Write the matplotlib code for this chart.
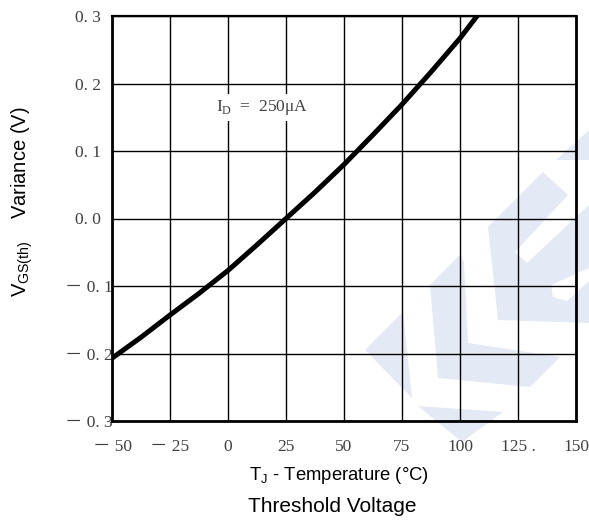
import matplotlib
matplotlib.use("Agg")
import matplotlib.pyplot as plt
from matplotlib.patches import Polygon

# threshold voltage shift vs junction temperature
temp_c = [-50, -37.5, -25, -12.5, 0, 12.5, 25, 37.5, 50, 62.5, 75, 87.5, 100, 108]
vgs_var = [-0.207, -0.176, -0.143, -0.111, -0.077, -0.039, 0.0, 0.039, 0.080,
           0.124, 0.169, 0.217, 0.267, 0.303]

x_ticks = [-50, -25, 0, 25, 50, 75, 100, 125, 150]
x_labels = ["－ 50", "－ 25", "0", "25", "50", "75", "100", "125 .", "150"]
y_ticks = [-0.3, -0.2, -0.1, 0.0, 0.1, 0.2, 0.3]
y_labels = ["－ 0. 3", "－ 0. 2", "－ 0. 1", "0. 0", "0. 1", "0. 2", "0. 3"]

W, H = 589, 528
serif = ["Liberation Serif", "Noto Sans CJK SC"]
sans = ["Liberation Sans", "DejaVu Sans"]

fig = plt.figure(figsize=(W / 100, H / 100), dpi=100)
ax = fig.add_axes([112 / W, 1 - 421 / H, 464 / W, 405 / H])
ax.set_facecolor("none")

# pale logo in the background (pixel coords, y downward)
logo_shapes = [
    [(365, 350), (403, 312), (412, 398)],
    [(430, 285), (460, 255), (464, 262), (468, 343), (560, 357), (530, 387), (438, 378)],
    [(418, 406), (503, 412), (462, 442)],
    [(488, 227), (543, 172), (568, 195), (515, 252), (527, 263), (589, 205),
     (589, 323), (498, 320)],
    [(556, 160), (589, 130), (589, 160)],
]
for pts in logo_shapes:
    fig.patches.append(Polygon([(px / W, 1 - py / H) for px, py in pts], closed=True,
                               transform=fig.transFigure, fc="#e3e9f5", ec="none",
                               zorder=-2))
notch = [(551, 285), (553, 297), (567, 301), (589, 281), (589, 268)]
fig.patches.append(Polygon([(px / W, 1 - py / H) for px, py in notch], closed=True,
                           transform=fig.transFigure, fc="white", ec="none", zorder=-1))

ax.plot(temp_c, vgs_var, color="black", lw=3.6, solid_capstyle="butt", zorder=3)

ax.set_xlim(-50, 150)
ax.set_ylim(-0.3, 0.3)
ax.set_xticks(x_ticks)
ax.set_xticklabels(x_labels)
ax.set_yticks(y_ticks)
ax.set_yticklabels(y_labels)
ax.grid(True, color="black", lw=1.0)
ax.set_axisbelow(True)
ax.tick_params(length=0, labelsize=12.5, labelcolor="#404040")
ax.tick_params(axis="x", pad=13)
ax.tick_params(axis="y", pad=17)
for lab in ax.get_xticklabels() + ax.get_yticklabels():
    lab.set_fontfamily(serif)
for lab in ax.get_yticklabels():
    lab.set_ha("center")

for side in ["left", "bottom", "right"]:
    ax.spines[side].set_linewidth(2.0)
ax.spines["top"].set_linewidth(1.6)

ax.text(14.7, 0.164, r"I$_\mathregular{D}$  =  250μA", fontsize=12.5, family=serif,
        color="#404040", ha="center", va="center", zorder=4,
        bbox=dict(fc="white", ec="none", pad=3))

fig.text(339 / W, 1 - 476 / H, r"T$_\mathregular{J}$ - Temperature (°C)",
         fontsize=13.3, family=sans, ha="center", va="center")
fig.text(332 / W, 1 - 506 / H, "Threshold Voltage", fontsize=15, family=sans,
         ha="center", va="center")
fig.text(22 / W, 1 - 202 / H, r"V$_\mathregular{GS(th)}$    Variance (V)",
         fontsize=14.5, family=sans, rotation=90, ha="center", va="center")

fig.savefig("out.png", dpi=100)
